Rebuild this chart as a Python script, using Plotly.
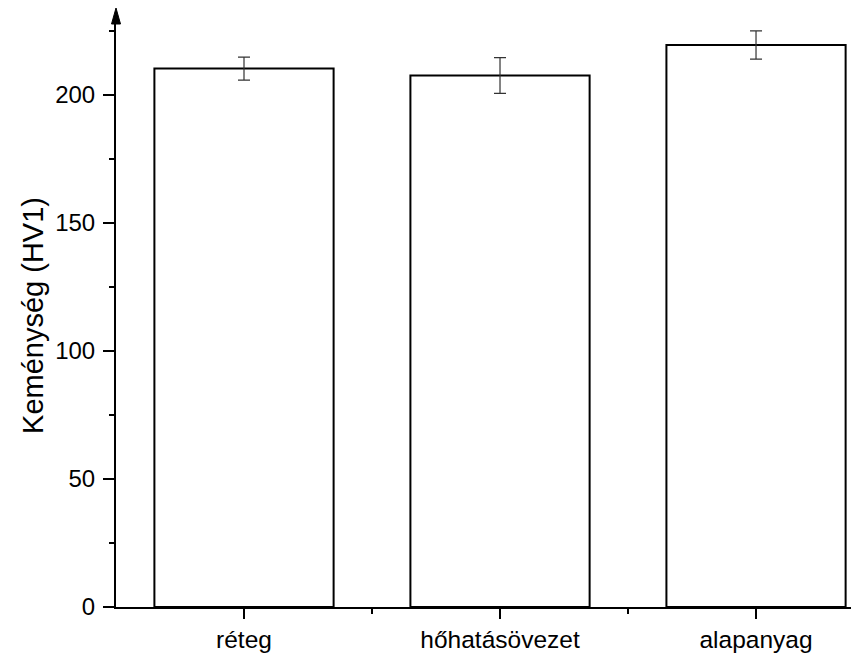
import plotly.graph_objects as go

# Hardness measurements by zone
categories = ["réteg", "hőhatásövezet", "alapanyag"]
hardness = [210.3, 207.6, 219.5]
hardness_err = [4.5, 7.0, 5.5]
y_tick_values = [0, 50, 100, 150, 200]

positions = list(range(len(categories)))
FONT = "Liberation Sans, Arial, sans-serif"

fig = go.Figure()
fig.add_trace(go.Bar(
    x=positions,
    y=hardness,
    width=0.7,
    marker=dict(color="white", line=dict(color="black", width=2)),
    error_y=dict(type="data", array=hardness_err, visible=True,
                 color="#333333", thickness=1.2, width=6),
    showlegend=False,
))

fig.update_layout(
    width=851, height=656,
    margin=dict(l=116, r=0, t=24, b=49),
    plot_bgcolor="white", paper_bgcolor="white",
    font=dict(family=FONT, color="black", size=24),
    bargap=0.3,
)

fig.update_xaxes(
    range=[-0.5, 2.371],
    tickmode="array", tickvals=positions, ticktext=categories,
    ticks="outside", ticklen=10, tickwidth=2, tickcolor="black",
    showline=True, linecolor="black", linewidth=2,
    showgrid=False, zeroline=False,
    tickfont=dict(size=24.5),
    minor=dict(ticks="outside", ticklen=5, tickwidth=2, tickcolor="black",
               tickmode="array", tickvals=[0.5, 1.5], showgrid=False),
)

fig.update_yaxes(
    range=[0, 227.7],
    tickmode="array", tickvals=y_tick_values,
    ticks="outside", ticklen=11, tickwidth=2, tickcolor="black",
    showline=True, linecolor="black", linewidth=2,
    showgrid=False, zeroline=False,
    tickfont=dict(size=24),
    ticklabelstandoff=3,
    minor=dict(ticks="outside", ticklen=5, tickwidth=2, tickcolor="black",
               dtick=25, tick0=0, showgrid=False),
    title=dict(text="Keménység (HV1)", font=dict(size=29), standoff=3),
)

# Arrowhead at the top of the y axis
fig.add_shape(
    type="path", xref="paper", yref="paper",
    xsizemode="pixel", ysizemode="pixel", xanchor=0, yanchor=1,
    path="M -4.5,0 L 4.5,0 L 0,16 Z",
    fillcolor="black", line=dict(color="black", width=1),
)

fig.write_html("out.html")
